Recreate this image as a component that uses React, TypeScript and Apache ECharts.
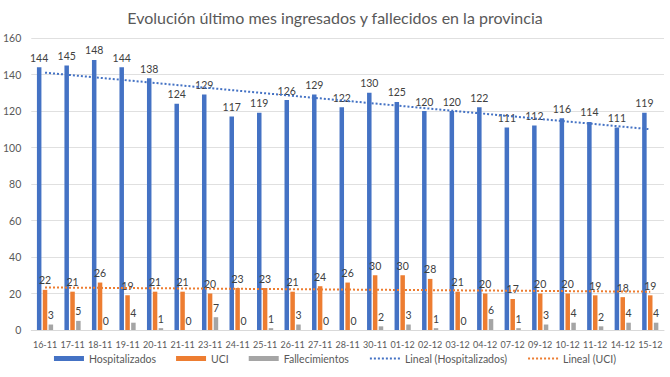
import React, { useEffect, useRef } from "react";
import * as echarts from "echarts";

const categories = ["16-11","17-11","18-11","19-11","20-11","21-11","23-11","24-11","25-11","26-11","27-11","28-11","30-11","01-12","02-12","03-12","04-12","07-12","09-12","10-12","11-12","14-12","15-12"];
const hospitalizados = [144,145,148,144,138,124,129,117,119,126,129,122,130,125,120,120,122,111,112,116,114,111,119];
const uci = [22,21,26,19,21,21,20,23,23,21,24,26,30,30,28,21,20,17,20,20,19,18,19];
const fallecimientos = [3,5,0,4,1,0,7,0,1,3,0,0,2,3,1,0,6,1,3,4,2,4,4];
// trend line end values (first and last category)
const trendHosp = [141, 110];
const trendUci = [23.3, 21.0];
const yTicks = { min: 0, max: 160, interval: 20 };

const FONT = "Lato";
const BLUE = "#4472C4";
const ORANGE = "#ED7D31";
const GRAY = "#A5A5A5";

export default function App() {
  const ref = useRef<HTMLDivElement>(null);
  useEffect(() => {
    if (!ref.current) return;
    const chart = echarts.init(ref.current, null, { renderer: "svg" });
    const label = { show: true, position: "top", distance: 4, fontSize: 10.5, color: "#404040", fontFamily: FONT };
    const last = categories.length - 1;
    chart.setOption({
      animation: false,
      backgroundColor: "#fff",
      textStyle: { fontFamily: FONT },
      title: {
        text: "Evolución último mes ingresados y fallecidos en la provincia",
        left: "center",
        top: 4,
        textStyle: { fontSize: 16, fontWeight: "normal", color: "#595959", fontFamily: FONT },
      },
      grid: { left: 30, right: 6, top: 38, bottom: 47, containLabel: false },
      legend: {
        bottom: 8,
        left: "center",
        itemWidth: 30,
        itemHeight: 5,
        itemGap: 20,
        textStyle: { fontSize: 10.5, color: "#595959", fontFamily: FONT },
        data: [
          { name: "Hospitalizados", icon: "rect" },
          { name: "UCI", icon: "rect" },
          { name: "Fallecimientos", icon: "rect" },
          { name: "Lineal (Hospitalizados)", itemStyle: { opacity: 0 } },
          { name: "Lineal (UCI)", itemStyle: { opacity: 0 } },
        ],
      },
      xAxis: {
        type: "category",
        data: categories,
        axisLine: { lineStyle: { color: "#d9d9d9" } },
        axisTick: { show: false },
        axisLabel: { fontSize: 9, color: "#595959", interval: 0, margin: 10, fontFamily: FONT },
      },
      yAxis: {
        type: "value",
        min: yTicks.min,
        max: yTicks.max,
        interval: yTicks.interval,
        axisLine: { show: false },
        axisTick: { show: false },
        axisLabel: { fontSize: 10.5, color: "#595959", margin: 10, fontFamily: FONT },
        splitLine: { lineStyle: { color: "#e0e0e0" } },
      },
      series: [
        { name: "Hospitalizados", type: "bar", data: hospitalizados, barWidth: 4.5, barGap: "30%", itemStyle: { color: BLUE }, label },
        { name: "UCI", type: "bar", data: uci, barWidth: 4.5, barGap: "30%", itemStyle: { color: ORANGE }, label },
        { name: "Fallecimientos", type: "bar", data: fallecimientos, barWidth: 4.5, barGap: "30%", itemStyle: { color: GRAY }, label },
        {
          name: "Lineal (Hospitalizados)", type: "line", symbol: "none",
          data: [[categories[0], trendHosp[0]], [categories[last], trendHosp[1]]],
          lineStyle: { color: BLUE, width: 2, type: [2, 2] }, itemStyle: { color: BLUE }, z: 5,
        },
        {
          name: "Lineal (UCI)", type: "line", symbol: "none",
          data: [[categories[0], trendUci[0]], [categories[last], trendUci[1]]],
          lineStyle: { color: ORANGE, width: 2, type: [2, 2] }, itemStyle: { color: ORANGE }, z: 5,
        },
      ],
    });
    return () => chart.dispose();
  }, []);
  return <div ref={ref} style={{ width: 670, height: 377, position: "absolute", left: 0, top: 0 }} />;
}
